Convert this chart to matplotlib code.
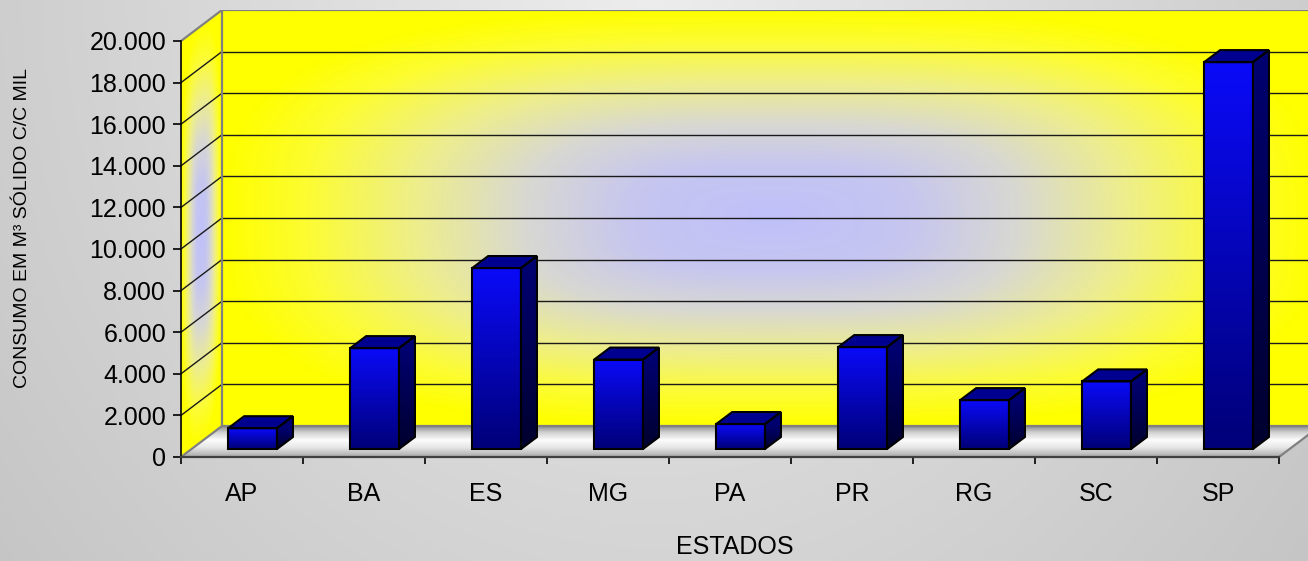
import numpy as np
import matplotlib.pyplot as plt
from matplotlib.patches import Polygon
from matplotlib.colors import LinearSegmentedColormap, to_rgb

plt.rcParams['font.family'] = ['Liberation Sans', 'DejaVu Sans']

# Dados
estados = ['AP', 'BA', 'ES', 'MG', 'PA', 'PR', 'RG', 'SC', 'SP']
consumo = [1000, 4850, 8700, 4300, 1200, 4900, 2350, 3250, 18600]
yticks = np.arange(0, 20001, 2000)
ytick_labels = [f'{v:,.0f}'.replace(',', '.') for v in yticks]

# geometria do "3D" (unidades dos eixos)
DX, DY = 0.336, 1490          # profundidade das paredes
F0 = 0.258                    # fração de profundidade da face frontal das barras
BW, BDX, BDY = 0.40, 0.131, 577
N = len(estados)
YMAX = 20000

fig = plt.figure(figsize=(13.08, 5.61), dpi=100)

# fundo cinza com degradê
bg = fig.add_axes([0, 0, 1, 1])
gx, gy = np.meshgrid(np.linspace(0, 1308, 400), np.linspace(0, 561, 200))
r = np.sqrt(((gx - 650) / 800) ** 2 + ((gy + 20) / 900) ** 2)
g = 0.93 - 0.15 * np.clip(r, 0, 1.2)
bg.imshow(np.dstack([g, g, g]), extent=(0, 1, 0, 1), aspect='auto', origin='upper')
bg.axis('off')

ax = fig.add_axes([181 / 1308, 104 / 561, 1139 / 1308, 447 / 561])
ax.patch.set_visible(False)


def fill_gradient(verts, colorfunc, z, n=200):
    verts = np.asarray(verts, float)
    (x0, y0), (x1, y1) = verts.min(0), verts.max(0)
    X, Y = np.meshgrid(np.linspace(x0, x1, n), np.linspace(y0, y1, n))
    img = ax.imshow(colorfunc(X, Y), extent=(x0, x1, y0, y1), origin='lower',
                    aspect='auto', interpolation='bilinear', zorder=z)
    clip = Polygon(verts, closed=True, transform=ax.transData, facecolor='none')
    img.set_clip_path(clip)
    return img


wall_cmap = LinearSegmentedColormap.from_list('wall', [
    (0, '#c0c0fa'), (0.25, '#c6c6f0'), (0.45, '#d8d8d2'),
    (0.65, '#eeee8c'), (0.85, '#fcfc32'), (1, '#ffff00')])
floor_cmap = LinearSegmentedColormap.from_list('floor', [
    (0, '#a8a8a8'), (0.3, '#e6e6e6'), (0.55, '#fcfcfc'),
    (0.8, '#d0d0d0'), (1, '#8c8c8c')])


def wall_color(u, v, p=3):
    d = (np.abs(2 * u - 1) ** p + np.abs(2 * v - 1) ** p) ** (1 / p)
    return wall_cmap(np.clip(d, 0, 1))[..., :3]


def back_func(X, Y):
    return wall_color((X - DX) / N, (Y - DY) / YMAX)


def side_func(X, Y):
    u = np.clip(X / DX, 0, 1)
    return wall_color(u, (Y - u * DY) / YMAX)


def floor_func(X, Y):
    return floor_cmap(np.clip(Y / DY, 0, 1))[..., :3]


back = [(DX, DY), (N + DX, DY), (N + DX, YMAX + DY), (DX, YMAX + DY)]
side = [(0, 0), (DX, DY), (DX, YMAX + DY), (0, YMAX)]
floor = [(0, 0), (N, 0), (N + DX, DY), (DX, DY)]
fill_gradient(back, back_func, 1, n=300)
fill_gradient(side, side_func, 1, n=300)
fill_gradient(floor, floor_func, 1, n=100)

# linhas de grade
for v in yticks[1:-1]:
    ax.plot([DX, N + DX], [v + DY, v + DY], color='#1a1a1a', lw=1, zorder=2)
    ax.plot([0, DX], [v, v + DY], color='#1a1a1a', lw=1, zorder=2)

# bordas das paredes
edge = dict(color='#808080', lw=1.6, zorder=2.5, solid_capstyle='butt')
ax.plot([DX, DX, N + DX], [DY, YMAX + DY, YMAX + DY], **edge)
ax.plot([DX, N + DX], [DY, DY], **edge)
ax.plot([0, DX], [YMAX, YMAX + DY], **edge)
ax.plot([0, DX], [0, DY], **edge)
ax.plot([N, N + DX], [0, DY], **edge)


def vgrad(c_bot, c_top, ya, yb):
    cb, ct = np.array(to_rgb(c_bot)), np.array(to_rgb(c_top))

    def f(X, Y):
        t = np.clip((Y - ya) / (yb - ya), 0, 1)[..., None]
        return cb + (ct - cb) * t
    return f


# barras
for i, h in enumerate(consumo):
    x0 = i + 0.5 - BW / 2 + F0 * DX
    y0 = F0 * DY
    front = [(x0, y0), (x0 + BW, y0), (x0 + BW, y0 + h), (x0, y0 + h)]
    lateral = [(x0 + BW, y0), (x0 + BW + BDX, y0 + BDY),
               (x0 + BW + BDX, y0 + h + BDY), (x0 + BW, y0 + h)]
    top = [(x0, y0 + h), (x0 + BW, y0 + h),
           (x0 + BW + BDX, y0 + h + BDY), (x0 + BDX, y0 + h + BDY)]
    fill_gradient(front, vgrad('#000078', '#0a0af8', y0, y0 + h), 3, n=60)
    fill_gradient(lateral, vgrad('#00002e', '#000070', y0, y0 + h), 3, n=60)
    ax.add_patch(Polygon(top, closed=True, facecolor='#000090', edgecolor='none', zorder=3))
    for poly in (front, lateral, top):
        ax.add_patch(Polygon(poly, closed=True, fill=False, edgecolor='black',
                             lw=1.5, joinstyle='miter', zorder=4))

ax.set_xlim(0, N + DX)
ax.set_ylim(0, YMAX + DY)

for s in ('top', 'right'):
    ax.spines[s].set_visible(False)
ax.spines['left'].set_bounds(0, YMAX)
ax.spines['left'].set_color('black')
ax.spines['left'].set_linewidth(1.2)
ax.spines['bottom'].set_bounds(0, N)
ax.spines['bottom'].set_color('#404040')
ax.spines['bottom'].set_linewidth(1.6)
ax.spines['left'].set_zorder(5)
ax.spines['bottom'].set_zorder(5)

ax.set_yticks(yticks, ytick_labels)
ax.tick_params(axis='y', length=5.8, width=1.2, labelsize=18, pad=5)
ax.set_xticks(np.arange(N + 1), [''] * (N + 1))
ax.set_xticks(np.arange(N) + 0.5, estados, minor=True)
ax.tick_params(axis='x', which='major', length=5, width=1.2)
ax.tick_params(axis='x', which='minor', length=0, labelsize=18, pad=18)

fig.text(23 / 1308, 1 - 228 / 561, 'CONSUMO EM M³ SÓLIDO C/C MIL', rotation=90,
         ha='center', va='center', fontsize=14)
fig.text(735 / 1308, 1 - 547 / 561, 'ESTADOS', ha='center', va='center', fontsize=18)

fig.savefig('out.png', dpi=100)
